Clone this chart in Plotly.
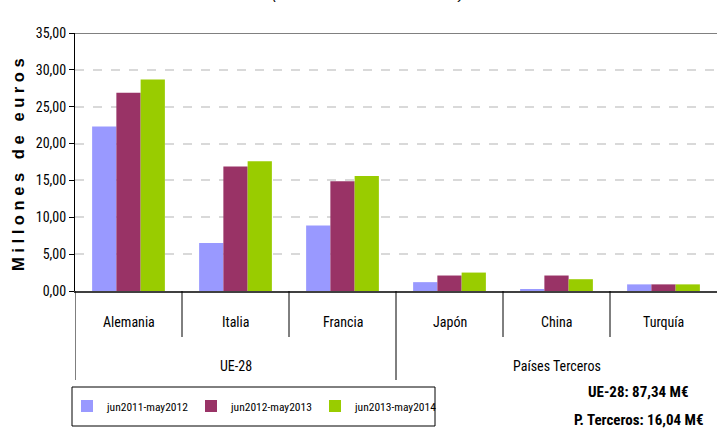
import plotly.graph_objects as go

categories = ["Alemania", "Italia", "Francia", "Japón", "China", "Turquía"]
groups = ["UE-28", "Países Terceros"]
group_members = [["Alemania", "Italia", "Francia"], ["Japón", "China", "Turquía"]]
series_names = ["jun2011-may2012", "jun2012-may2013", "jun2013-may2014"]
s2011 = [22.3, 6.5, 8.9, 1.2, 0.25, 0.9]
s2012 = [26.9, 16.9, 14.9, 2.1, 2.1, 0.9]
s2013 = [28.7, 17.6, 15.6, 2.5, 1.6, 0.9]
colors = ["#9999FF", "#993366", "#99CC00"]
y_ticks = [0, 5, 10, 15, 20, 25, 30, 35]
y_ticktext = ["0,00", "5,00", "10,00", "15,00", "20,00", "25,00", "30,00", "35,00"]
totals = ["UE-28: 87,34 M€", "P. Terceros: 16,04 M€"]

NARROW = "Liberation Sans Narrow, Arial Narrow, Roboto Condensed, Roboto, sans-serif"

fig = go.Figure()
for name, vals, col in zip(series_names, [s2011, s2012, s2013], colors):
    fig.add_trace(go.Bar(x=categories, y=vals, name=name, marker_color=col,
                         marker_line_width=0))

W, H = 717, 432
ml, mr, mt, mb = 75, 0, 33, 141
ph = H - mt - mb
pw = W - ml - mr

def py(pix):
    return (H - mb - pix) / ph

def px(pix):
    return (pix - ml) / pw

fig.update_layout(
    width=W, height=H,
    margin=dict(l=ml, r=mr, t=mt, b=mb, autoexpand=False),
    paper_bgcolor="white", plot_bgcolor="white",
    barmode="group", bargap=0.32, bargroupgap=0,
    font=dict(family=NARROW, size=13, color="#000000"),
    showlegend=True,
    legend=dict(orientation="h", x=px(67), y=py(406), xanchor="left", yanchor="middle",
                borderwidth=0, bgcolor="rgba(0,0,0,0)",
                font=dict(family=NARROW, size=11.5, color="#000000"),
                entrywidth=79, entrywidthmode="pixels", itemwidth=30,
                traceorder="normal"),
    xaxis=dict(type="category", showticklabels=False, showline=True, linecolor="#404040",
               linewidth=2, ticks="", showgrid=False, range=[-0.5, 5.5], fixedrange=True),
    yaxis=dict(range=[0, 35], tickvals=y_ticks, ticktext=y_ticktext, showline=True,
               linecolor="#000000", linewidth=1, ticks="outside", ticklen=5,
               tickcolor="#000000", showgrid=True, gridcolor="#D9D9D9", griddash="dash",
               gridwidth=1.5, zeroline=False, fixedrange=True,
               tickfont=dict(family=NARROW, size=14, color="#000000")),
)

shapes = []
# top border
shapes.append(dict(type="line", xref="paper", yref="y", x0=0, x1=1, y0=35, y1=35,
                   line=dict(color="#808080", width=2)))
# category dividers
for i in range(1, 6):
    long = i == 3
    shapes.append(dict(type="line", xref="x", yref="paper", x0=i - 0.5, x1=i - 0.5,
                       y0=0, y1=py(380) if long else py(337),
                       line=dict(color="#000000", width=1)))
shapes.append(dict(type="line", xref="x", yref="paper", x0=-0.5, x1=-0.5,
                   y0=0, y1=py(380), line=dict(color="#000000", width=1)))
# legend frame
shapes.append(dict(type="rect", xref="paper", yref="paper", x0=px(72), x1=px(435),
                   y0=py(426), y1=py(387), line=dict(color="#000000", width=1),
                   fillcolor="rgba(0,0,0,0)", layer="below"))
fig.update_layout(shapes=shapes)

ann = []
for c in categories:
    ann.append(dict(x=c, y=py(322), xref="x", yref="paper", text=c, showarrow=False,
                    font=dict(family=NARROW, size=14, color="#000000"),
                    xanchor="center", yanchor="middle"))
for g, mem in zip(groups, group_members):
    ann.append(dict(x=mem[1], y=py(366), xref="x", yref="paper", text=g, showarrow=False,
                    font=dict(family=NARROW, size=14, color="#000000"),
                    xanchor="center", yanchor="middle"))
for t, ypix in zip(totals, [392, 420]):
    ann.append(dict(x=px(638), y=py(ypix), xref="paper", yref="paper",
                    text="<b>" + t + "</b>", showarrow=False,
                    font=dict(family=NARROW, size=15, color="#000000"),
                    xanchor="center", yanchor="middle"))
ann.append(dict(x=px(18), y=py(165), xref="paper", yref="paper",
                text="<b>M i l l o n e s   d e   e u r o s</b>", textangle=-90,
                showarrow=False, font=dict(family="Liberation Sans, Arial, sans-serif",
                                            size=16.5, color="#000000"),
                xanchor="center", yanchor="middle"))
ann.append(dict(x=px(368), y=py(-6), xref="paper", yref="paper",
                text="<i>(Datos en millones de euros)</i>", showarrow=False,
                font=dict(family="Liberation Sans, Arial, sans-serif", size=15, color="#000000"),
                xanchor="center", yanchor="middle"))
fig.update_layout(annotations=ann)

fig.write_html("out.html", config={"displayModeBar": False},
               post_script="document.body.style.margin='0';")
